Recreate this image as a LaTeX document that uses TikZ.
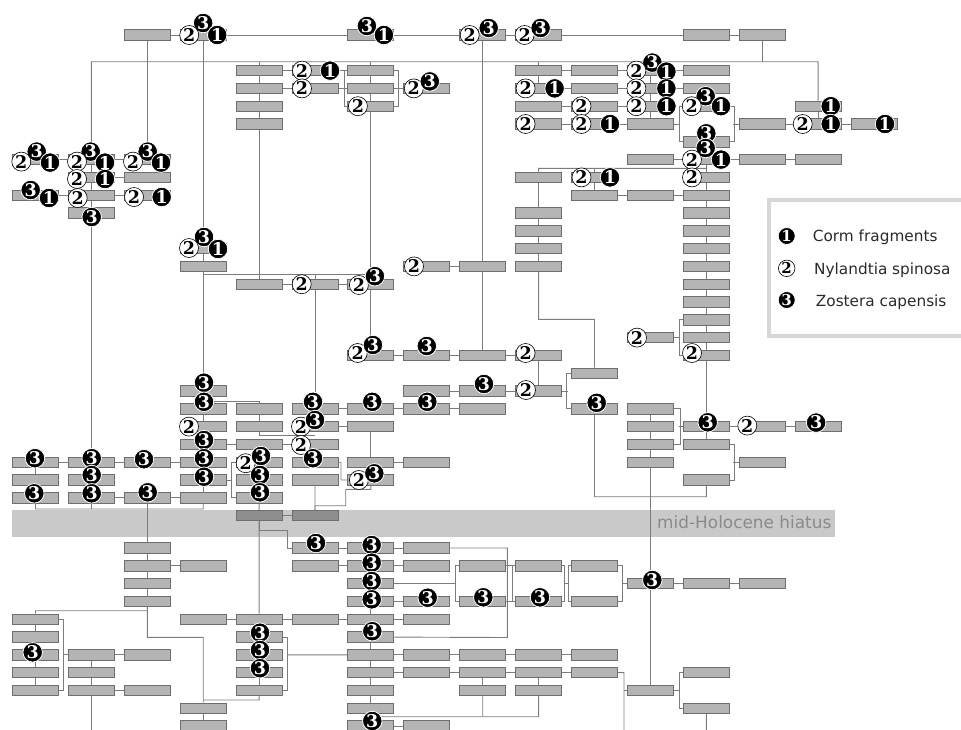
\documentclass[tikz,border=0pt]{standalone}
\usepackage{fontspec}
\setmainfont{DejaVu Sans}
\newfontfamily\numfont{DejaVu Serif}
\usetikzlibrary{calc}
\pgfdeclarelayer{background}
\pgfsetlayers{background,main}
\definecolor{boxfill}{HTML}{B4B4B4}
\definecolor{boxline}{HTML}{6E6E6E}
\definecolor{conn}{HTML}{7C7C7C}
\definecolor{bandgray}{HTML}{C9C9C9}
\definecolor{darkbox}{HTML}{8E8E8E}
\definecolor{hiatustext}{HTML}{8A8A8A}
\definecolor{legendline}{HTML}{D6D6D6}
\definecolor{legtext}{HTML}{2A2A2A}
\newcommand\Bx[3]{\node[bx] (#1) at ({35.5+55.9*(#2)},{35+17.8*(#3)}) {};}
\newcommand\BxL[3]{\node[bx] (#1) at ({35.5+55.9*(#2)},{548+17.8*(#3)}) {};}
\newcommand\bI[3]{\node[bk] (#1-1) at ([shift={(#2,#3)}]#1.center) {1};}
\newcommand\bII[3]{\node[wh] (#1-2) at ([shift={(#2,#3)}]#1.center) {2};}
\newcommand\bIII[3]{\node[bk] (#1-3) at ([shift={(#2,#3)}]#1.center) {3};}
\tikzset{
  bx/.style={rectangle, minimum width=46pt, minimum height=10.5pt, inner sep=0pt, fill=boxfill, draw=boxline, line width=0.9pt},
  dbx/.style={bx, fill=darkbox},
  bk/.style={circle, fill=black, draw=white, line width=0.8pt, text=white, inner sep=0pt, minimum size=19.5pt, font=\numfont\bfseries\fontsize{17.5}{17.5}\selectfont},
  wh/.style={circle, fill=white, draw=black, line width=0.6pt, text=black, inner sep=0pt, minimum size=19pt, font=\numfont\bfseries\fontsize{17.5}{17.5}\selectfont},
  ln/.style={draw=conn, line width=0.9pt},
}
\begin{document}
\begin{tikzpicture}[x=1pt,y=-1pt]
\useasboundingbox (0,0) rectangle (961,729);
% ---------------- boxes ----------------
\Bx{c2r0}{2}{0}\Bx{c3r0}{3}{0}\Bx{c6r0}{6}{0}\Bx{c8r0}{8}{0}\Bx{c9r0}{9}{0}\Bx{c12r0}{12}{0}\Bx{c13r0}{13}{0}
\Bx{c4r2}{4}{2}\Bx{c4r3}{4}{3}\Bx{c4r4}{4}{4}\Bx{c4r5}{4}{5}
\Bx{c5r2}{5}{2}\Bx{c5r3}{5}{3}
\Bx{c6r2}{6}{2}\Bx{c6r3}{6}{3}\Bx{c6r4}{6}{4}
\Bx{c7r3}{7}{3}
\Bx{c9r2}{9}{2}\Bx{c10r2}{10}{2}\Bx{c11r2}{11}{2}\Bx{c12r2}{12}{2}
\Bx{c9r3}{9}{3}\Bx{c10r3}{10}{3}\Bx{c11r3}{11}{3}\Bx{c12r3}{12}{3}
\Bx{c9r4}{9}{4}\Bx{c10r4}{10}{4}\Bx{c11r4}{11}{4}\Bx{c12r4}{12}{4}
\Bx{c9r5}{9}{5}\Bx{c10r5}{10}{5}\Bx{c11r5}{11}{5}
\Bx{c12r6}{12}{6}
\Bx{c13r5}{13}{5}\Bx{c14r4}{14}{4}\Bx{c14r5}{14}{5}\Bx{c15r5}{15}{5}
\Bx{c11r7}{11}{7}\Bx{c12r7}{12}{7}\Bx{c13r7}{13}{7}\Bx{c14r7}{14}{7}
\Bx{c9r8}{9}{8}\Bx{c10r8}{10}{8}\Bx{c12r8}{12}{8}
\Bx{c10r9}{10}{9}\Bx{c11r9}{11}{9}
\foreach \r in {9,...,18} {\Bx{c12r\r}{12}{\r}}
\Bx{c11r17}{11}{17}
\foreach \r in {10,...,13} {\Bx{c9r\r}{9}{\r}}
\Bx{c0r7}{0}{7}\Bx{c1r7}{1}{7}\Bx{c2r7}{2}{7}
\Bx{c1r8}{1}{8}\Bx{c2r8}{2}{8}
\Bx{c0r9}{0}{9}\Bx{c1r9}{1}{9}\Bx{c2r9}{2}{9}
\Bx{c1r10}{1}{10}
\Bx{c3r12}{3}{12}\Bx{c3r13}{3}{13}
\Bx{c4r14}{4}{14}\Bx{c5r14}{5}{14}\Bx{c6r14}{6}{14}
\Bx{c7r13}{7}{13}\Bx{c8r13}{8}{13}
\Bx{c6r18}{6}{18}\Bx{c7r18}{7}{18}\Bx{c8r18}{8}{18}\Bx{c9r18}{9}{18}
\Bx{c10r19}{10}{19}
\Bx{c7r20}{7}{20}\Bx{c8r20}{8}{20}\Bx{c9r20}{9}{20}
\Bx{c5r21}{5}{21}\Bx{c6r21}{6}{21}\Bx{c7r21}{7}{21}\Bx{c8r21}{8}{21}\Bx{c10r21}{10}{21}
\Bx{c5r22}{5}{22}\Bx{c6r22}{6}{22}
\Bx{c5r23}{5}{23}
\Bx{c5r24}{5}{24}\Bx{c6r24}{6}{24}\Bx{c7r24}{7}{24}
\Bx{c5r25}{5}{25}\Bx{c6r25}{6}{25}
\foreach \r in {21,...,24} {\Bx{c11r\r}{11}{\r}}
\Bx{c12r22}{12}{22}\Bx{c13r22}{13}{22}\Bx{c14r22}{14}{22}
\Bx{c12r23}{12}{23}\Bx{c13r24}{13}{24}\Bx{c12r25}{12}{25}
\foreach \r in {20,...,26} {\Bx{c3r\r}{3}{\r}}
\foreach \r in {21,...,26} {\Bx{c4r\r}{4}{\r}}
\foreach \r in {24,25,26} {\Bx{c0r\r}{0}{\r}\Bx{c1r\r}{1}{\r}}
\Bx{c2r24}{2}{24}\Bx{c2r26}{2}{26}
\node[dbx] (c4r27) at (259.1,515.6) {};
\node[dbx] (c5r27) at (315.0,515.6) {};
\foreach \r in {0,...,3} {\BxL{c2L\r}{2}{\r}}
\BxL{c3L1}{3}{1}
\foreach \r in {4,...,8} {\BxL{c0L\r}{0}{\r}\BxL{c4L\r}{4}{\r}}
\BxL{c1L6}{1}{6}\BxL{c1L7}{1}{7}\BxL{c1L8}{1}{8}
\BxL{c2L6}{2}{6}\BxL{c2L8}{2}{8}
\BxL{c3L4}{3}{4}\BxL{c5L4}{5}{4}
\BxL{c3L9}{3}{9}\BxL{c3L10}{3}{10}
\BxL{c5L0}{5}{0}\BxL{c5L1}{5}{1}
\foreach \r in {0,...,10} {\BxL{c6L\r}{6}{\r}}
\BxL{c7L0}{7}{0}\BxL{c7L1}{7}{1}\BxL{c7L3}{7}{3}\BxL{c7L4}{7}{4}
\BxL{c8L1}{8}{1}\BxL{c8L3}{8}{3}\BxL{c9L1}{9}{1}\BxL{c9L3}{9}{3}\BxL{c10L1}{10}{1}\BxL{c10L3}{10}{3}
\BxL{c11L2}{11}{2}\BxL{c12L2}{12}{2}\BxL{c13L2}{13}{2}
\BxL{c7L6}{7}{6}\BxL{c8L6}{8}{6}\BxL{c9L6}{9}{6}\BxL{c10L6}{10}{6}
\BxL{c7L7}{7}{7}\BxL{c8L7}{8}{7}\BxL{c9L7}{9}{7}\BxL{c10L7}{10}{7}
\BxL{c8L8}{8}{8}\BxL{c9L8}{9}{8}
\BxL{c7L10}{7}{10}
\BxL{c11L8}{11}{8}\BxL{c12L7}{12}{7}\BxL{c12L9}{12}{9}
% ---------------- badges ----------------
\bIII{c3r0}{0}{-12}\bII{c3r0}{-14}{0}\bI{c3r0}{14}{0}
\bIII{c6r0}{-4}{-9}\bI{c6r0}{13}{0}
\bII{c8r0}{-13}{0}\bIII{c8r0}{6}{-7}
\bII{c9r0}{-14}{0}\bIII{c9r0}{2}{-7}
\bII{c5r2}{-13}{0}\bI{c5r2}{15}{0}
\bII{c5r3}{-13}{0}
\bII{c6r4}{-13}{0}
\bII{c7r3}{-13}{0}\bIII{c7r3}{3}{-7}
\bIII{c11r2}{2}{-8}\bII{c11r2}{-14}{0}\bI{c11r2}{16}{1}
\bII{c9r3}{-13}{0}\bI{c9r3}{16}{0}
\bII{c11r3}{-14}{0}\bI{c11r3}{16}{0}
\bII{c10r4}{-13}{0}
\bII{c11r4}{-14}{0}\bI{c11r4}{16}{0}
\bIII{c12r4}{-0.6}{-10}\bII{c12r4}{-14.6}{0}\bI{c12r4}{14.7}{0}
\bII{c9r5}{-13}{0}
\bII{c10r5}{-13}{0}\bI{c10r5}{15.5}{0}
\bIII{c12r6}{0}{-8.5}
\bI{c14r4}{12.6}{0}
\bII{c14r5}{-15.4}{0}\bI{c14r5}{12.6}{0}
\bI{c15r5}{11}{0}
\bIII{c12r7}{-0.6}{-11.6}\bII{c12r7}{-14.3}{0}\bI{c12r7}{14.7}{0}
\bII{c12r8}{-14.3}{0}
\bII{c10r8}{-13}{0}\bI{c10r8}{15.5}{0}
\bIII{c0r7}{1.2}{-8}\bII{c0r7}{-14.2}{2}\bI{c0r7}{14.5}{3}
\bIII{c1r7}{-0.7}{-8}\bII{c1r7}{-14.4}{2}\bI{c1r7}{13.6}{3}
\bIII{c2r7}{0.4}{-8}\bII{c2r7}{-14.3}{2}\bI{c2r7}{13.7}{3}
\bII{c1r8}{-14.4}{1.6}\bI{c1r8}{13.6}{1.6}
\bIII{c0r9}{-4.8}{-5.2}\bI{c0r9}{13.5}{2.8}
\bII{c1r9}{-13.7}{2.8}
\bII{c2r9}{-13.3}{1.8}\bI{c2r9}{14.4}{1.8}
\bIII{c1r10}{0.3}{4}
\bIII{c3r12}{0.8}{-11.6}\bII{c3r12}{-14.2}{-0.6}\bI{c3r12}{14.8}{0.4}
\bII{c5r14}{-13.3}{0}
\bII{c6r14}{-12}{0.8}\bIII{c6r14}{4}{-8}
\bII{c7r13}{-12.8}{0}
\bII{c6r18}{-13.2}{-2.4}\bIII{c6r18}{2}{-10.4}
\bIII{c7r18}{0}{-9.4}
\bII{c9r18}{-13}{-2.4}
\bIII{c8r20}{1.3}{-7}
\bII{c9r20}{-12.6}{-1}
\bIII{c10r21}{2.2}{-6}
\bIII{c5r21}{-2}{-7}\bIII{c6r21}{1.4}{-7}\bIII{c7r21}{0.5}{-7}
\bII{c5r22}{-14}{0}\bIII{c5r22}{0}{-6.6}
\bII{c5r23}{-14}{0.6}
\bIII{c5r24}{-2}{-4}
\bII{c6r25}{-12}{0}\bIII{c6r25}{3.4}{-6.7}
\bIII{c3r20}{0.8}{-8.3}\bIII{c3r21}{0.8}{-7}\bII{c3r22}{-14.2}{0}\bIII{c3r23}{0.8}{-4.4}\bIII{c3r24}{0.8}{-4}\bIII{c3r25}{0.8}{-3.3}
\bII{c4r24}{-13.4}{1}\bIII{c4r24}{1.9}{-6.2}
\bIII{c4r25}{0.9}{-5}\bIII{c4r26}{0.9}{-5.5}
\bIII{c0r24}{-0.5}{-4}\bIII{c1r24}{0.3}{-4}\bIII{c2r24}{-3.3}{-3}
\bIII{c1r25}{0.3}{-5}\bIII{c1r26}{0.3}{-4.5}\bIII{c0r26}{-1.2}{-4.5}\bIII{c2r26}{0.4}{-5.5}
\bII{c12r18}{-14.3}{-2.4}
\bII{c11r17}{-13.4}{0}
\bIII{c12r22}{1.4}{-4.3}\bII{c13r22}{-14.9}{-1}\bIII{c14r22}{-2}{-4}
\bIII{c0L6}{-2.8}{-2.5}
\bIII{c4L5}{0.9}{-4.3}\bIII{c4L6}{0.9}{-4.8}\bIII{c4L7}{0.9}{-4.4}
\bIII{c5L0}{1}{-5}
\bIII{c6L0}{0.8}{-3}\bIII{c6L1}{0.8}{-3.1}\bIII{c6L2}{0.8}{-2.6}\bIII{c6L3}{0.8}{-2.1}\bIII{c6L5}{1.4}{-5.8}\bIII{c6L10}{1.4}{-5}
\bIII{c7L3}{0.9}{-3.7}
\bIII{c8L3}{0.6}{-4.1}\bIII{c9L3}{1.4}{-4.1}\bIII{c11L2}{1.9}{-3.6}
% ---------------- band text ----------------
\node[font=\fontsize{16.9}{17}\selectfont, text=hiatustext, anchor=base west, inner sep=0pt] (hiatus) at (657,528.3) {mid-Holocene hiatus};
% ---------------- legend ----------------
\draw[legendline, line width=4pt] (961,200) -- (768.5,200) -- (768.5,335.5) -- (961,335.5);
\node[bk, minimum size=17pt, font=\numfont\bfseries\fontsize{15}{15}\selectfont] (leg1) at (786.7,236) {1};
\node[wh, minimum size=16.5pt, font=\numfont\bfseries\fontsize{15}{15}\selectfont] (leg2) at (786.7,268.3) {2};
\node[bk, minimum size=17pt, font=\numfont\bfseries\fontsize{15}{15}\selectfont] (leg3) at (786.7,300) {3};
\node[anchor=base west, inner sep=0pt, text=legtext, font=\fontsize{15.3}{16}\selectfont] (legt1) at (812.7,241.7) {Corm fragments};
\node[anchor=base west, inner sep=0pt, text=legtext, font=\fontsize{15.3}{16}\selectfont] (legt2) at (814,274) {Nylandtia spinosa};
\node[anchor=base west, inner sep=0pt, text=legtext, font=\fontsize{15.3}{16}\selectfont] (legt3) at (815.7,306.7) {Zostera capensis};
% ---------------- connectors ----------------
\begin{pgfonlayer}{background}
\fill[bandgray] (11.7,510) rectangle (835,537);
\draw[ln] (c2r0) -- (c13r0);
\draw[ln] (c2r0) -- (c2r7);
\draw[ln] (c3r0) -- (c3r12);
\draw[ln] (c8r0) -- (c8r13);
\coordinate (bus1a) at (91.4,61.7); \coordinate (bus1b) at (818.1,61.7);
\draw[ln] (c1r7) -- (bus1a) -- (bus1b) -- (c14r4);
\draw[ln] (c13r0) -- (c13r0 |- bus1a);
\draw[ln] (c4r2) -- (c4r2 |- bus1a);
\draw[ln] (c6r2) -- (c6r2 |- bus1a);
\draw[ln] (c9r2) -- (c9r2 |- bus1a);
\draw[ln] (c0r7) -- (c2r7); \draw[ln] (c1r8) -- (c2r8); \draw[ln] (c0r9) -- (c2r9);
\draw[ln] (c1r7) -- (c1r24);
\draw[ln] (c4r2) -- (c5r2); \draw[ln] (c4r3) -- (c5r3); \draw[ln] (c4r2) -- (c4r5);
\coordinate (bus2a) at (203.2,274); \coordinate (bus2b) at (370.9,274);
\draw[ln] (c4r5) -- (c4r5 |- bus2a);
\draw[ln] (c3r12) -- (c3r13); \draw[ln] (c3r13) -- (c3r20);
\draw[ln] (bus2a) -- (bus2b);
\draw[ln] (c4r14) -- (c4r14 |- bus2a); \draw[ln] (c5r14) -- (c5r14 |- bus2a);
\draw[ln] (c5r2) -- (c6r2);
\draw[ln] (c6r2.west) -- ++(-3,0) |- (c6r4.west);
\draw[ln] (c5r3) -- (c6r3);
\draw[ln] (c6r2) -- (c6r4); \draw[ln] (c6r4) -- (c6r14); \draw[ln] (c6r14) -- (c6r18);
\draw[ln] (c6r2.east) -- ++(4,0) |- (c6r4.east);
\draw[ln] (c6r3) -- (c7r3);
\draw[ln] (c9r2) -- (c12r2); \draw[ln] (c9r3) -- (c12r3); \draw[ln] (c9r4) -- (c11r4); \draw[ln] (c9r5) -- (c11r5);
\draw[ln] (c9r2) -- (c9r3); \draw[ln] (c11r2) -- (c11r5);
\draw[ln] (c11r5.east) -- ++(6.5,0); \draw[ln] (c12r4.west) -- ++(-3.5,0) |- (c12r6.west);
\draw[ln] (c12r4.east) -- ++(4.5,0) |- (c12r6.east); \draw[ln] (c13r5.west) -- ++(-5.5,0);
\draw[ln] (c13r5) -- (c15r5); \draw[ln] (c14r4) -- (c14r5);
\draw[ln] (c12r6) -- (c12r18); \draw[ln] (c11r7) -- (c14r7);
\coordinate (bus3a) at (538.6,168.3); \coordinate (bus3b) at (706.3,168.3);
\draw[ln] (c9r8) -- (bus3a) -- (bus3b); \draw[ln] (c10r8) -- (c10r8 |- bus3a);
\draw[ln] (c9r8) -- (c9r13); \draw[ln] (c10r8) -- (c10r9); \draw[ln] (c10r9) -- (c12r9);
\coordinate (e1) at (594.5,319.3); \draw[ln] (c9r13) |- (e1) -- (c10r19);
\draw[ln] (c11r17.east) -- ++(6.5,0); \draw[ln] (c12r16.west) -- ++(-3.5,0) |- (c12r18.west);
\draw[ln] (c12r18) -- (c12r22); \draw[ln] (c12r22) -- (c14r22); \draw[ln] (c12r22) -- (c12r23);
\draw[ln] (c11r21) -- (c11r24); \draw[ln] (c11r21.east) -- ++(6.5,0) |- (c11r23.east); \draw[ln] (c12r22.west) -- ++(-3.5,0);
\draw[ln] (c12r23.east) -- ++(4.5,0) |- (c12r25.east); \draw[ln] (c13r24.west) -- ++(-5.5,0);
\coordinate (bus4a) at (594.5,496.7); \coordinate (bus4b) at (706.3,496.7);
\draw[ln] (c10r21) -- (bus4a) -- (bus4b) -- (c12r25);
\draw[ln] (c11r24) -- (c11L2);
\draw[ln] (c4r14) -- (c6r14); \draw[ln] (c5r14) -- (c5r21);
\draw[ln] (c7r13) -- (c8r13); \draw[ln] (c8r13) -- (c8r18);
\draw[ln] (c6r18) -- (c9r18); \draw[ln] (c9r18) -- (c9r20);
\draw[ln] (c7r20) -- (c9r20); \draw[ln] (c9r20.east) -- ++(5.7,0); \draw[ln] (c10r19.west) -- ++(-4.2,0) |- (c10r21.west);
\draw[ln] (c5r21) -- (c8r21); \draw[ln] (c5r22) -- (c6r22); \draw[ln] (c6r22) -- (c6r24); \draw[ln] (c6r24) -- (c7r24);
% links around col5/col6 rows 22-27
\coordinate (e18) at (315,435); \draw[ln] (c4r22) |- (e18);
\coordinate (e19) at (341,462.2); \draw[ln] (c5r24) -- (e19) |- (c6r25-2);
\coordinate (e20) at (370.9,489.3); \coordinate (e21) at (345.7,489.3); \coordinate (e22) at (345.7,505.7); \coordinate (e23) at (315,505.7);
\draw[ln] (c6r25) -- (e20) -- (e21) -- (e22) -- (e23) -- (c5r27);
\draw[ln] (c5r25) -- (c5r27);
\coordinate (e17) at (287.3,530); \draw[ln] (c4r27) |- (e17) |- (c5L0);
\draw[ln] (c3r20) -- (c3r26);
\draw[ln] (c3r21-3) -| (c4r21); \draw[ln] (c4r21) -- (c4r22);
\draw[ln] (c3r23) -- (c5r23);
\draw[ln] (c4r24.west) -- ++(-4,0) |- (c4r26.west); \draw[ln] (c3r25.east) -- ++(5,0);
\draw[ln] (c4r24) -- (c4r27); \draw[ln] (c4r27) -- (c5r27);
\draw[ln] (c0r24) -- (c3r24); \draw[ln] (c0r24) -- (c0r26); \draw[ln] (c1r24) -- (c1r26); \draw[ln] (c1r26) -- (c3r26);
\coordinate (bus5a) at (35.5,509); \coordinate (bus5b) at (203.2,509);
\draw[ln] (c0r26) -- (bus5a) -- (bus5b) -- (c3r26); \draw[ln] (c1r26) -- (c1r26 |- bus5a);
\draw[ln] (c2r26) -- (c2L0);
\draw[ln] (c4r27) -- (c4L4);
\draw[ln] (c2L0) -- (c2L3); \draw[ln] (c2L1) -- (c3L1);
\coordinate (e4) at (147.3,610.7); \draw[ln] (c2L3) -- (e4) -| (c0L4);
\coordinate (e5) at (147.3,637.3); \coordinate (e6) at (203.2,637.3); \draw[ln] (e4) -- (e5) -- (e6) -- (c3L9);
\draw[ln] (c0L4) -- (c0L8); \draw[ln] (c0L4.east) -- ++(4.8,0) |- (c0L8.east); \draw[ln] (c1L6.west) -- ++(-5,0);
\draw[ln] (c1L6) -- (c2L6); \draw[ln] (c1L8) -- (c2L8); \draw[ln] (c1L6) -- (c1L8);
\coordinate (bot1) at (91.4,731); \draw[ln] (c1L8) -- (bot1);
\draw[ln] (c3L4) -- (c7L4); \draw[ln] (c4L4) -- (c4L8);
\draw[ln] (c4L5.east) -- ++(5,0) |- (c4L8.east); \coordinate (e7) at (287.1,654.8); \draw[ln] (e7) -- (c6L6);
\coordinate (e8) at (259.1,700); \draw[ln] (c4L8) -- (e8) -- (e8 -| c3L9);
\draw[ln] (c3L9) -- (c3L10);
\draw[ln] (c5L0) -- (c7L0); \coordinate (e2) at (507.3,548); \coordinate (e2b) at (507.3,637.5); \draw[ln] (c7L0) -- (e2) -- (e2b) -- (c6L5);
\draw[ln] (c5L1) -- (c7L1);
\coordinate (e9) at (456,583.6); \draw[ln] (c6L2) -- (e9); \draw[ln] (c8L1.west) -- ++(-3.5,0) |- (c8L3.west);
\draw[ln] (c6L3) -- (c7L3);
\draw[ln] (c6L0) -- (c6L10);
\draw[ln] (c6L6) -- (c10L6); \draw[ln] (c6L7) -- (c10L7);
\draw[ln] (c8L7) -- (c8L8); \draw[ln] (c9L7) -- (c9L8);
\coordinate (e10) at (482.7,716.7); \coordinate (e11) at (538.6,716.7); \coordinate (e12) at (370.9,716.7);
\draw[ln] (c8L8) -- (e10); \draw[ln] (c9L8) -- (e11) -- (e12);
\draw[ln] (c6L10) -- (c7L10);
\draw[ln] (c8L1) -- (c9L1); \draw[ln] (c8L3) -- (c9L3); \draw[ln] (c9L1.west) -- ++(-2.5,0) |- (c9L3.west);
\draw[ln] (c9L1.east) -- ++(2.5,0) |- (c9L3.east); \draw[ln] (c10L1.west) -- ++(-2.5,0) |- (c10L3.west);
\coordinate (e13) at (564.1,583.6); \coordinate (e14) at (569,583.6); \draw[ln] (e13) -- (e14);
\draw[ln] (c10L1.east) -- ++(4,0) |- (c10L3.east); \coordinate (e15) at (621.5,583.6); \draw[ln] (e15) -- (c11L2);
\draw[ln] (c11L2) -- (c13L2); \draw[ln] (c11L2) -- (c11L8);
\draw[ln] (c11L8.east) -- ++(6.5,0); \draw[ln] (c12L7.west) -- ++(-3.5,0) |- (c12L9.west);
\coordinate (bot2) at (706.3,731); \draw[ln] (c12L9) -- (bot2);
\coordinate (e16) at (624,672.6); \coordinate (bot3) at (624,731); \draw[ln] (c10L7) -- (e16) -- (bot3); \draw[ln] (e16 |- c11L8) -- (c11L8);
\end{pgfonlayer}
\end{tikzpicture}
\end{document}
